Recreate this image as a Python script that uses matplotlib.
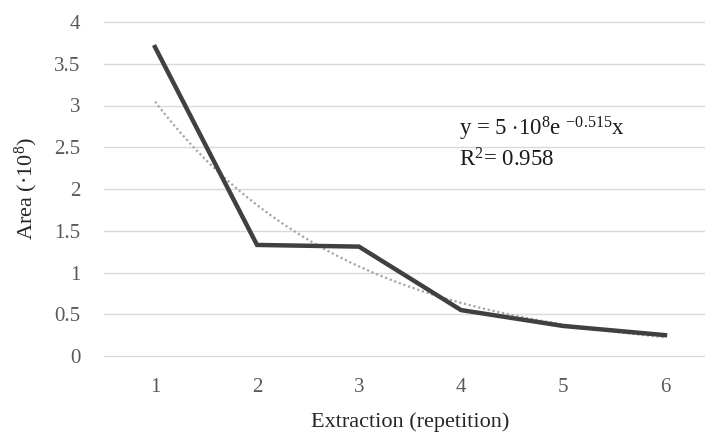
import numpy as np
import matplotlib
matplotlib.use("Agg")
import matplotlib.pyplot as plt

categories = [1, 2, 3, 4, 5, 6]
area = [3.70, 1.33, 1.31, 0.55, 0.36, 0.25]
yticks = [0, 0.5, 1, 1.5, 2, 2.5, 3, 3.5, 4]
ytick_labels = ["0", "0.5", "1", "1.5", "2", "2.5", "3", "3.5", "4"]

plt.rcParams['font.family'] = ['Liberation Serif', 'DejaVu Serif']
plt.rcParams['mathtext.fontset'] = 'custom'
plt.rcParams['mathtext.rm'] = 'Liberation Serif'
plt.rcParams['mathtext.it'] = 'Liberation Serif'
plt.rcParams['mathtext.bf'] = 'Liberation Serif'

fig = plt.figure(figsize=(7.05, 4.37), dpi=100)
ax = fig.add_axes([104/705, 81/437, 612/705, 334/437])

x = np.array(categories, dtype=float)
y = np.array(area)
# exponential trendline fitted to data
b, a = np.polyfit(x, np.log(y), 1)
xt = np.linspace(1, 6, 200)
yt = np.exp(a) * np.exp(b * xt)

ax.plot(xt, yt, color='#a6a6a6', lw=1.6, ls=(0, (1, 1.2)), zorder=2)
ax.plot(x, y, color='#404040', lw=3.2, solid_joinstyle='miter', zorder=3)

ax.set_xlim(0.5, 6.5)
ax.set_ylim(0, 4)
ax.set_yticks(yticks)
ax.set_yticklabels(ytick_labels)
ax.set_xticks(categories)
ax.grid(axis='y', color='#d9d9d9', lw=1.0)
for gl in ax.get_ygridlines():
    gl.set_clip_on(False)
ax.set_axisbelow(True)
for s in ax.spines.values():
    s.set_visible(False)
ax.tick_params(length=0, labelsize=15, colors='#595959')
ax.tick_params(axis='x', pad=16)
ax.tick_params(axis='y', pad=17)

ax.set_xlabel('Extraction (repetition)', fontsize=16, color='#262626', labelpad=11)
ax.set_ylabel('Area (·10$^{8}$)', fontsize=16, color='#262626', labelpad=10)

fig.text(459/705, 1 - 129/437, r'y = 5 $\cdot$10$^{8}$e $^{-0.515}$x', fontsize=16.5,
         color='#1a1a1a', va='center', ha='left')
fig.text(459/705, 1 - 160/437, 'R$^{2}$= 0.958', fontsize=16.5,
         color='#1a1a1a', va='center', ha='left')

fig.savefig('out.png', dpi=100)
